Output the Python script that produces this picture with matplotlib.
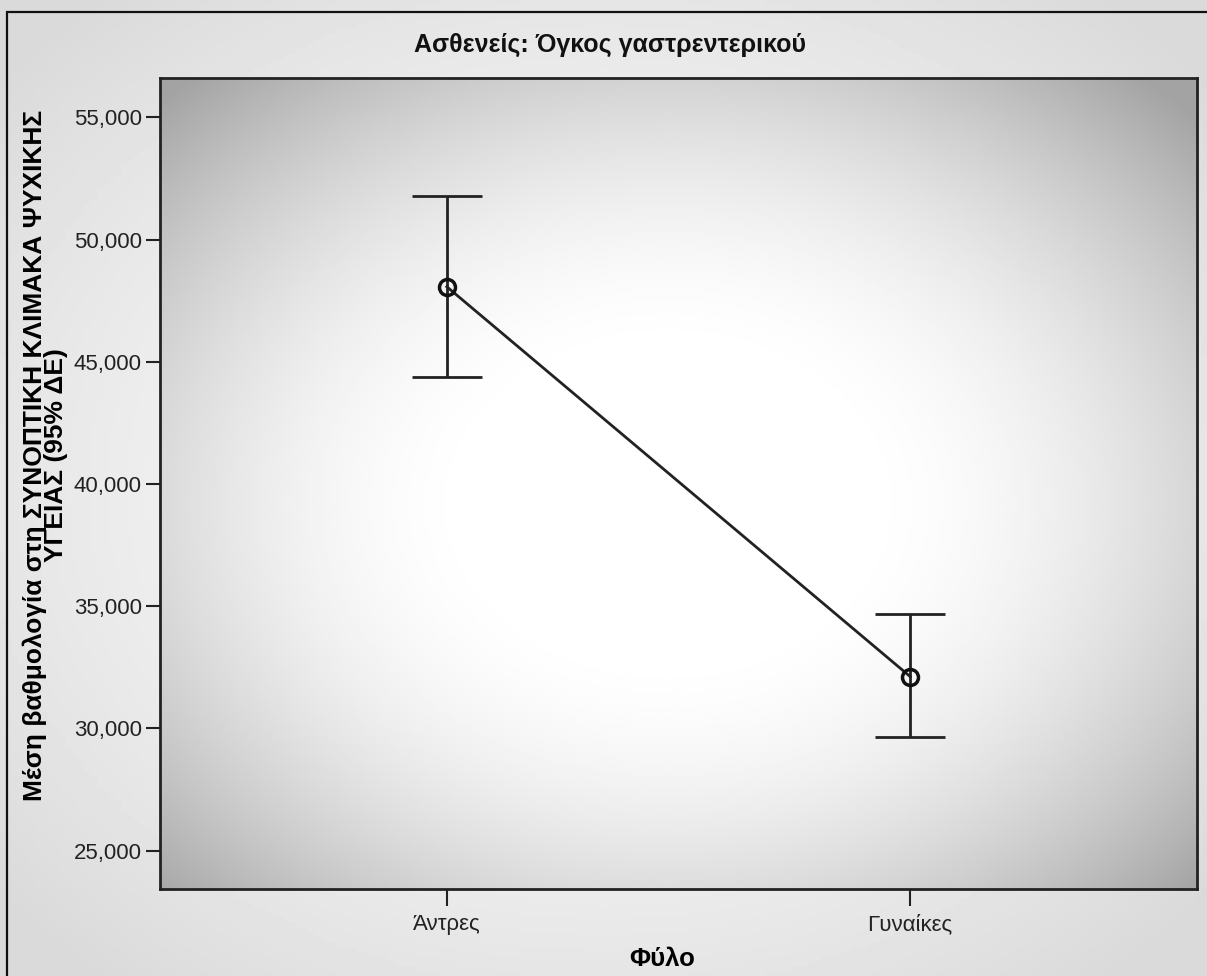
import numpy as np
import matplotlib
matplotlib.use("Agg")
import matplotlib.pyplot as plt
from matplotlib.ticker import FuncFormatter, MultipleLocator
from matplotlib.patches import Rectangle

plt.rcParams['font.family'] = ['Liberation Sans', 'DejaVu Sans']

# μέση τιμή και όρια 95% ΔΕ ανά φύλο
φύλο = ['Άντρες', 'Γυναίκες']
μέση = [48.07, 32.12]
κάτω_όριο = [44.36, 29.64]
άνω_όριο = [51.78, 34.69]

fig = plt.figure(figsize=(12.07, 9.76), dpi=100)

# φόντο όλου του γραφήματος (ανοιχτό γκρι με φωτεινό κέντρο)
bg = fig.add_axes([0, 0, 1, 1], zorder=-10)
yy, xx = np.mgrid[0:1:200j, 0:1:200j]
r = np.sqrt(((xx - 0.5) / 0.5) ** 2 + ((yy - 0.5) / 0.5) ** 2)
g = 0.985 - 0.13 * np.clip(r / 1.3, 0, 1) ** 1.6
bg.imshow(g, cmap='gray', vmin=0, vmax=1, extent=[0, 1, 0, 1], aspect='auto')
bg.set_axis_off()

# εξωτερικό πλαίσιο
fig.patches.append(Rectangle((7 / 1207, -0.05), 1.05, 0.05 + 1 - 12 / 976,
                             transform=fig.transFigure, fill=False,
                             edgecolor='#111111', linewidth=1.6, zorder=5))

ax = fig.add_axes([160 / 1207, 1 - 889 / 976, 1037 / 1207, 811 / 976])
xlim = (-0.619, 1.619)
ylim = (23.43, 56.61)

# ακτινική διαβάθμιση στην περιοχή σχεδίασης
yy, xx = np.mgrid[-1:1:300j, -1:1:300j]
t = np.sqrt(((xx + 0.02) / 1.0) ** 2 + ((yy - 0.05) / 1.0) ** 2)
shade = 1.0 - 0.36 * np.clip((t - 0.35) / 1.05, 0, 1) ** 1.8
ax.imshow(shade, cmap='gray', vmin=0, vmax=1,
          extent=[xlim[0], xlim[1], ylim[0], ylim[1]], aspect='auto', zorder=0)

x = np.arange(len(φύλο))
μ = np.array(μέση)
err = [μ - np.array(κάτω_όριο), np.array(άνω_όριο) - μ]
ax.errorbar(x, μ, yerr=err, fmt='none', ecolor='#222222', elinewidth=2,
            capsize=25, capthick=2, zorder=3)
ax.plot(x, μ, color='#222222', linewidth=2, zorder=3)
ax.plot(x, μ, 'o', markersize=11.5, markerfacecolor='none',
        markeredgecolor='#111111', markeredgewidth=2.5, zorder=4)

ax.set_xlim(*xlim)
ax.set_ylim(*ylim)
ax.set_xticks(x)
ax.set_xticklabels(φύλο)
ax.yaxis.set_major_locator(MultipleLocator(5))
ax.yaxis.set_major_formatter(FuncFormatter(lambda v, p: f"{v:.3f}".replace('.', ',')))
ax.tick_params(axis='both', labelsize=16, colors='#222222', width=1.5, length=10)
ax.tick_params(axis='x', length=12, pad=6)
ax.tick_params(axis='y', pad=3)
for s in ax.spines.values():
    s.set_linewidth(2)
    s.set_color('#222222')

ax.set_xlabel('Φύλο', fontsize=18.5, fontweight='bold')
ax.xaxis.set_label_coords(0.484, -0.071)
ax.set_ylabel('Μέση βαθμολογία στη ΣΥΝΟΠΤΙΚΗ ΚΛΙΜΑΚΑ ΨΥΧΙΚΗΣ\nΥΓΕΙΑΣ (95% ΔΕ)',
              fontsize=19, fontweight='bold', linespacing=0.82)
ax.yaxis.set_label_coords(-0.089, 0.535)

fig.text(0.505, 1 - 45 / 976, 'Ασθενείς: Όγκος γαστρεντερικού', ha='center',
         va='center', fontsize=18, fontweight='bold', color='#111111')

fig.savefig('out.png', dpi=100)
